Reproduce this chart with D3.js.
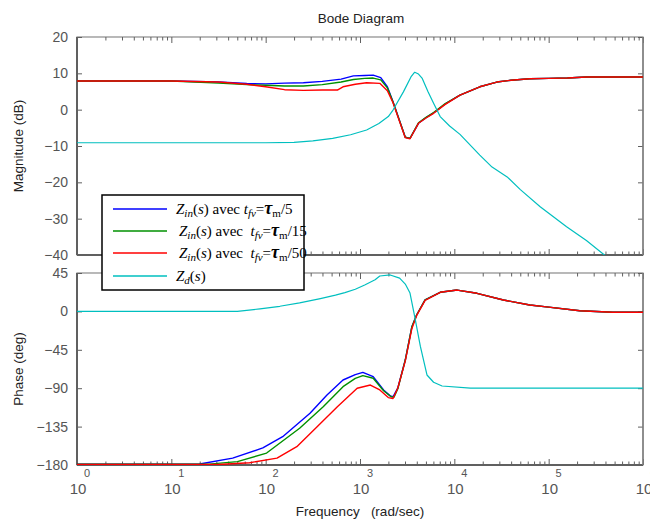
<!DOCTYPE html>
<html><head><meta charset="utf-8">
<script src="https://cdn.jsdelivr.net/npm/d3@7"></script>
<style>
html,body{margin:0;padding:0;background:#fff;}
svg{display:block;}
</style></head>
<body><svg id="chart" width="650" height="523"></svg>
<script>
// ---- Data (frequency given as log10 exponent of rad/sec) ----
const magBlueF  = [0,0.5,1,1.5,1.8,2.0,2.2,2.4,2.6,2.8,2.93,3.05,3.14,3.22,3.29,3.35,3.48,3.53,3.62,3.7,3.78,3.9,4.06,4.27,4.45,4.6,4.8,5.0,5.2,5.4,5.6,6.0];
const magBlue   = [7.9,7.9,7.9,7.6,7.2,7.1,7.3,7.4,7.8,8.4,9.3,9.4,9.5,8.8,6.3,2.2,-7.6,-7.9,-3.75,-2.2,-0.9,1.5,4.0,6.3,7.6,8.1,8.5,8.6,8.7,9.0,9.0,9.0];
const magGreenF = [0,0.5,1,1.5,1.8,2.0,2.2,2.4,2.6,2.8,2.93,3.05,3.14,3.22,3.29,3.35,3.48,3.53,3.62,3.7,3.78,3.9,4.06,4.27,4.45,4.6,4.8,5.0,5.2,5.4,5.6,6.0];
const magGreen  = [7.9,7.9,7.9,7.3,6.9,6.7,6.5,6.5,6.9,7.6,8.3,8.6,8.7,8.2,6.0,2.1,-7.6,-7.9,-3.6,-2.1,-0.8,1.6,4.0,6.3,7.6,8.1,8.5,8.6,8.7,9.0,9.0,9.0];
const magRedF   = [0,0.5,1,1.5,1.8,2.0,2.2,2.4,2.6,2.76,2.82,2.95,3.07,3.21,3.29,3.35,3.48,3.53,3.62,3.7,3.78,3.9,4.06,4.27,4.45,4.6,4.8,5.0,5.2,5.4,5.6,6.0];
const magRed    = [7.9,7.9,7.9,7.6,7.0,6.3,5.5,5.3,5.4,5.4,6.3,7.0,7.4,7.25,5.2,1.9,-7.7,-8.0,-3.75,-2.3,-1.0,1.4,4.0,6.3,7.6,8.1,8.5,8.6,8.7,9.0,9.0,9.0];
const magCyanF  = [0,1,2,2.3,2.5,2.71,2.9,3.07,3.2,3.3,3.35,3.46,3.54,3.58,3.62,3.66,3.72,3.78,3.85,3.95,4.06,4.27,4.4,4.56,4.7,4.91,5.19,5.4,5.62,6.0];
const magCyan   = [-9.1,-9.1,-9.1,-9.0,-8.6,-7.9,-6.9,-5.6,-3.8,-1.9,-0.1,4.9,9.0,10.3,9.8,8.6,5.0,1.75,-1.9,-4.5,-6.8,-12.5,-15.8,-18.5,-22.0,-26.7,-32.2,-36.0,-40.6,-49.0];

const phBlueF   = [0,1,1.3,1.65,1.97,2.18,2.47,2.65,2.82,2.95,3.03,3.14,3.25,3.32,3.35,3.4,3.48,3.55,3.6,3.69,3.85,4.03,4.24,4.52,4.8,5.0,5.33,5.68,6.0];
const phBlue    = [-179,-179,-178.8,-172,-160,-146.8,-119.4,-98,-80.4,-74,-71.4,-76.5,-92,-99,-100,-90,-57,-18,-4.2,13.4,22.4,25,21.2,13.4,7.5,5,0.8,-1,-1];
const phGreenF  = [0,1,1.4,1.7,2.01,2.36,2.61,2.82,2.95,3.03,3.14,3.25,3.33,3.36,3.4,3.48,3.55,3.6,3.69,3.85,4.03,4.24,4.52,4.8,5.0,5.33,5.68,6.0];
const phGreen   = [-179,-179,-179,-176,-166,-137,-111.7,-88.2,-78.5,-75.3,-78.4,-93,-100,-100.5,-91,-57,-18,-4.2,13.4,22.4,25,21.2,13.4,7.5,5,0.8,-1,-1];
const phRedF    = [0,1,1.5,1.83,2.12,2.33,2.54,2.76,2.97,3.11,3.21,3.3,3.35,3.4,3.48,3.55,3.6,3.69,3.85,4.03,4.24,4.52,4.8,5.0,5.33,5.68,6.0];
const phRed     = [-179.5,-179.5,-179.5,-177.3,-172,-158.5,-135.8,-111.7,-90.1,-86.3,-92,-101,-102,-90,-58,-20,-5,13,22.4,25,21.2,13.4,7.5,5,0.8,-1,-1];
const phCyanF   = [0,1,1.7,1.94,2.15,2.36,2.58,2.74,2.84,2.95,3.05,3.16,3.21,3.32,3.42,3.48,3.53,3.58,3.64,3.71,3.78,3.87,4.17,5,6];
const phCyan    = [0,0,0,3,6,10,15,19,22,26,31,37,41.5,42.7,39,32,21.5,-6,-41,-74.5,-83,-87.4,-90,-90,-90];

const magTicks = [20,10,0,-10,-20,-30,-40];
const phTicks  = [45,0,-45,-90,-135,-180];
const decadeExps = [0,1,2,3,4,5,6];

const seriesColors = ["#0000ff","#009000","#ff0000","#00bfbf"];

// ---- Layout ----
const SANS = "'Liberation Sans', Arial, sans-serif";
const SERIF = "'Liberation Serif', 'Times New Roman', serif";
const svg = d3.select("#chart");
const X0 = 77, X1 = 643;
const magTop = 37, magBot = 255, phTop = 273, phBot = 465;

const x = d3.scaleLog().domain([1, 1e6]).range([X0, X1]);
const yMag = d3.scaleLinear().domain([-40, 20]).range([magBot, magTop]);
const yPh  = d3.scaleLinear().domain([-180, 45]).range([phBot, phTop]);

const decades = decadeExps.map(e => Math.pow(10, e));
const minors = [];
for (let e = 0; e < 6; e++) for (let m = 2; m <= 9; m++) minors.push(m * Math.pow(10, e));

const axisColor = "#606060";

svg.append("text").attr("x", 361).attr("y", 23).attr("text-anchor","middle")
  .style("font-family", SANS).style("font-size","13.5px").attr("fill","#222").text("Bode Diagram");

function panel(id, y, yTicks, top, bot, series) {
  const g = svg.append("g");
  g.append("clipPath").attr("id", "clip"+id).append("rect")
    .attr("x", X0).attr("y", top).attr("width", X1-X0).attr("height", bot-top);
  g.append("rect").attr("x", X0).attr("y", top).attr("width", X1-X0).attr("height", bot-top)
    .attr("fill","none").attr("stroke","#8a8a8a").attr("stroke-width",1.2);

  const styleAxis = (sel) => { sel.select(".domain").remove(); sel.selectAll("line").attr("stroke", axisColor).attr("stroke-width",1); };

  const la = g.append("g").attr("transform",`translate(${X0},0)`)
    .call(d3.axisLeft(y).tickValues(yTicks).tickSize(-5).tickPadding(9).tickFormat(d3.format("d")));
  styleAxis(la);
  la.selectAll("text").style("font-size","14px").attr("fill","#555").style("font-family", SANS);
  const ra = g.append("g").attr("transform",`translate(${X1},0)`)
    .call(d3.axisRight(y).tickValues(yTicks).tickSize(-5).tickFormat(""));
  styleAxis(ra);
  [[bot, d3.axisBottom], [top, d3.axisTop]].forEach(([yy, ax]) => {
    const a1 = g.append("g").attr("transform",`translate(0,${yy})`)
      .call(ax(x).tickValues(decades).tickSize(-6).tickFormat(""));
    styleAxis(a1);
    const a2 = g.append("g").attr("transform",`translate(0,${yy})`)
      .call(ax(x).tickValues(minors).tickSize(-3.5).tickFormat(""));
    styleAxis(a2);
  });
  g.append("line").attr("x1",X0).attr("x2",X0).attr("y1",top).attr("y2",bot)
    .attr("stroke",axisColor).attr("stroke-width",2);
  g.append("line").attr("x1",X0).attr("x2",X1).attr("y1",bot).attr("y2",bot)
    .attr("stroke",axisColor).attr("stroke-width",2);
  g.append("line").attr("x1",X1).attr("x2",X1).attr("y1",top).attr("y2",bot)
    .attr("stroke","#808080").attr("stroke-width",1.5);

  const line = d3.line().x(d => x(Math.pow(10, d[0]))).y(d => y(d[1]));
  const cg = g.append("g").attr("clip-path", `url(#clip${id})`);
  series.forEach((s, i) => {
    cg.append("path").datum(s[0].map((f, k) => [f, s[1][k]]))
      .attr("d", line).attr("fill","none").attr("stroke", seriesColors[i])
      .attr("stroke-width", i === 3 ? 1.2 : 1.4).attr("stroke-linejoin","round");
  });
}

panel("mag", yMag, magTicks, magTop, magBot,
  [[magBlueF, magBlue],[magGreenF, magGreen],[magRedF, magRed],[magCyanF, magCyan]]);
panel("ph", yPh, phTicks, phTop, phBot,
  [[phBlueF, phBlue],[phGreenF, phGreen],[phRedF, phRed],[phCyanF, phCyan]]);

// x tick labels 10^n
decadeExps.forEach(e => {
  const px = x(Math.pow(10, e));
  svg.append("text").attr("x", px + 1).attr("y", 494).attr("text-anchor","middle")
    .style("font-family", SANS).style("font-size","15px").attr("fill","#555").text("10");
  svg.append("text").attr("x", px + 10).attr("y", 477).attr("text-anchor","middle")
    .style("font-family", SANS).style("font-size","11px").attr("fill","#555").text(String(e));
});

// axis titles
svg.append("text").attr("x", 360).attr("y", 516).attr("text-anchor","middle")
  .style("font-family", SANS).style("font-size","13.5px").attr("fill","#222").style("white-space","pre").text("Frequency   (rad/sec)");
svg.append("text").attr("transform", `translate(23,${(magTop+magBot)/2}) rotate(-90)`)
  .attr("text-anchor","middle").style("font-family", SANS).style("font-size","13.5px").attr("fill","#222").text("Magnitude (dB)");
svg.append("text").attr("transform", `translate(23,${(phTop+phBot)/2}) rotate(-90)`)
  .attr("text-anchor","middle").style("font-family", SANS).style("font-size","13.5px").attr("fill","#222").text("Phase (deg)");

// ---- Legend ----
const legendRows = [
  [["Z","i"],["in","isub"],["(","n"],["s","i"],[")","n"],[" avec ","n"],["t","i"],["fv","isub"],["=","n"],["τ","tau"],["m","sub"],["/5","n"]],
  [["Z","i"],["in","isub"],["(","n"],["s","i"],[")","n"],[" avec  ","n"],["t","i"],["fv","isub"],["=","n"],["τ","tau"],["m","sub"],["/15","n"]],
  [["Z","i"],["in","isub"],["(","n"],["s","i"],[")","n"],[" avec  ","n"],["t","i"],["fv","isub"],["=","n"],["τ","tau"],["m","sub"],["/50","n"]],
  [["Z","i"],["d","isub"],["(","n"],["s","i"],[")","n"]]
];
const lg = svg.append("g");
lg.append("rect").attr("x",102).attr("y",195).attr("width",202).attr("height",95)
  .attr("fill","#fff").attr("stroke","#000").attr("stroke-width",1.5);
const rowY = [209, 231, 253, 276];
const rowTX = [176, 179, 179, 176];
legendRows.forEach((row, i) => {
  lg.append("line").attr("x1",113).attr("x2",167).attr("y1",rowY[i]).attr("y2",rowY[i])
    .attr("stroke", seriesColors[i]).attr("stroke-width",1.4);
  const t = lg.append("text").attr("x", rowTX[i]).attr("y", rowY[i] + 5)
    .style("font-family", SERIF).style("font-size","15px").style("white-space","pre")
    .attr("fill","#000");
  let shifted = 0;
  row.forEach(([s, k]) => {
    const sp = t.append("tspan").text(s);
    const isSub = (k === "isub" || k === "sub");
    const dy = isSub ? 3 - shifted : -shifted;
    if (dy !== 0) sp.attr("dy", dy);
    shifted = isSub ? 3 : 0;
    if (k === "i" || k === "isub") sp.style("font-style","italic");
    if (isSub) sp.style("font-size", "11px");
    if (k === "tau") sp.style("font-size", "18px").style("font-weight","bold").style("font-style","italic");
  });
});
</script></body></html>
